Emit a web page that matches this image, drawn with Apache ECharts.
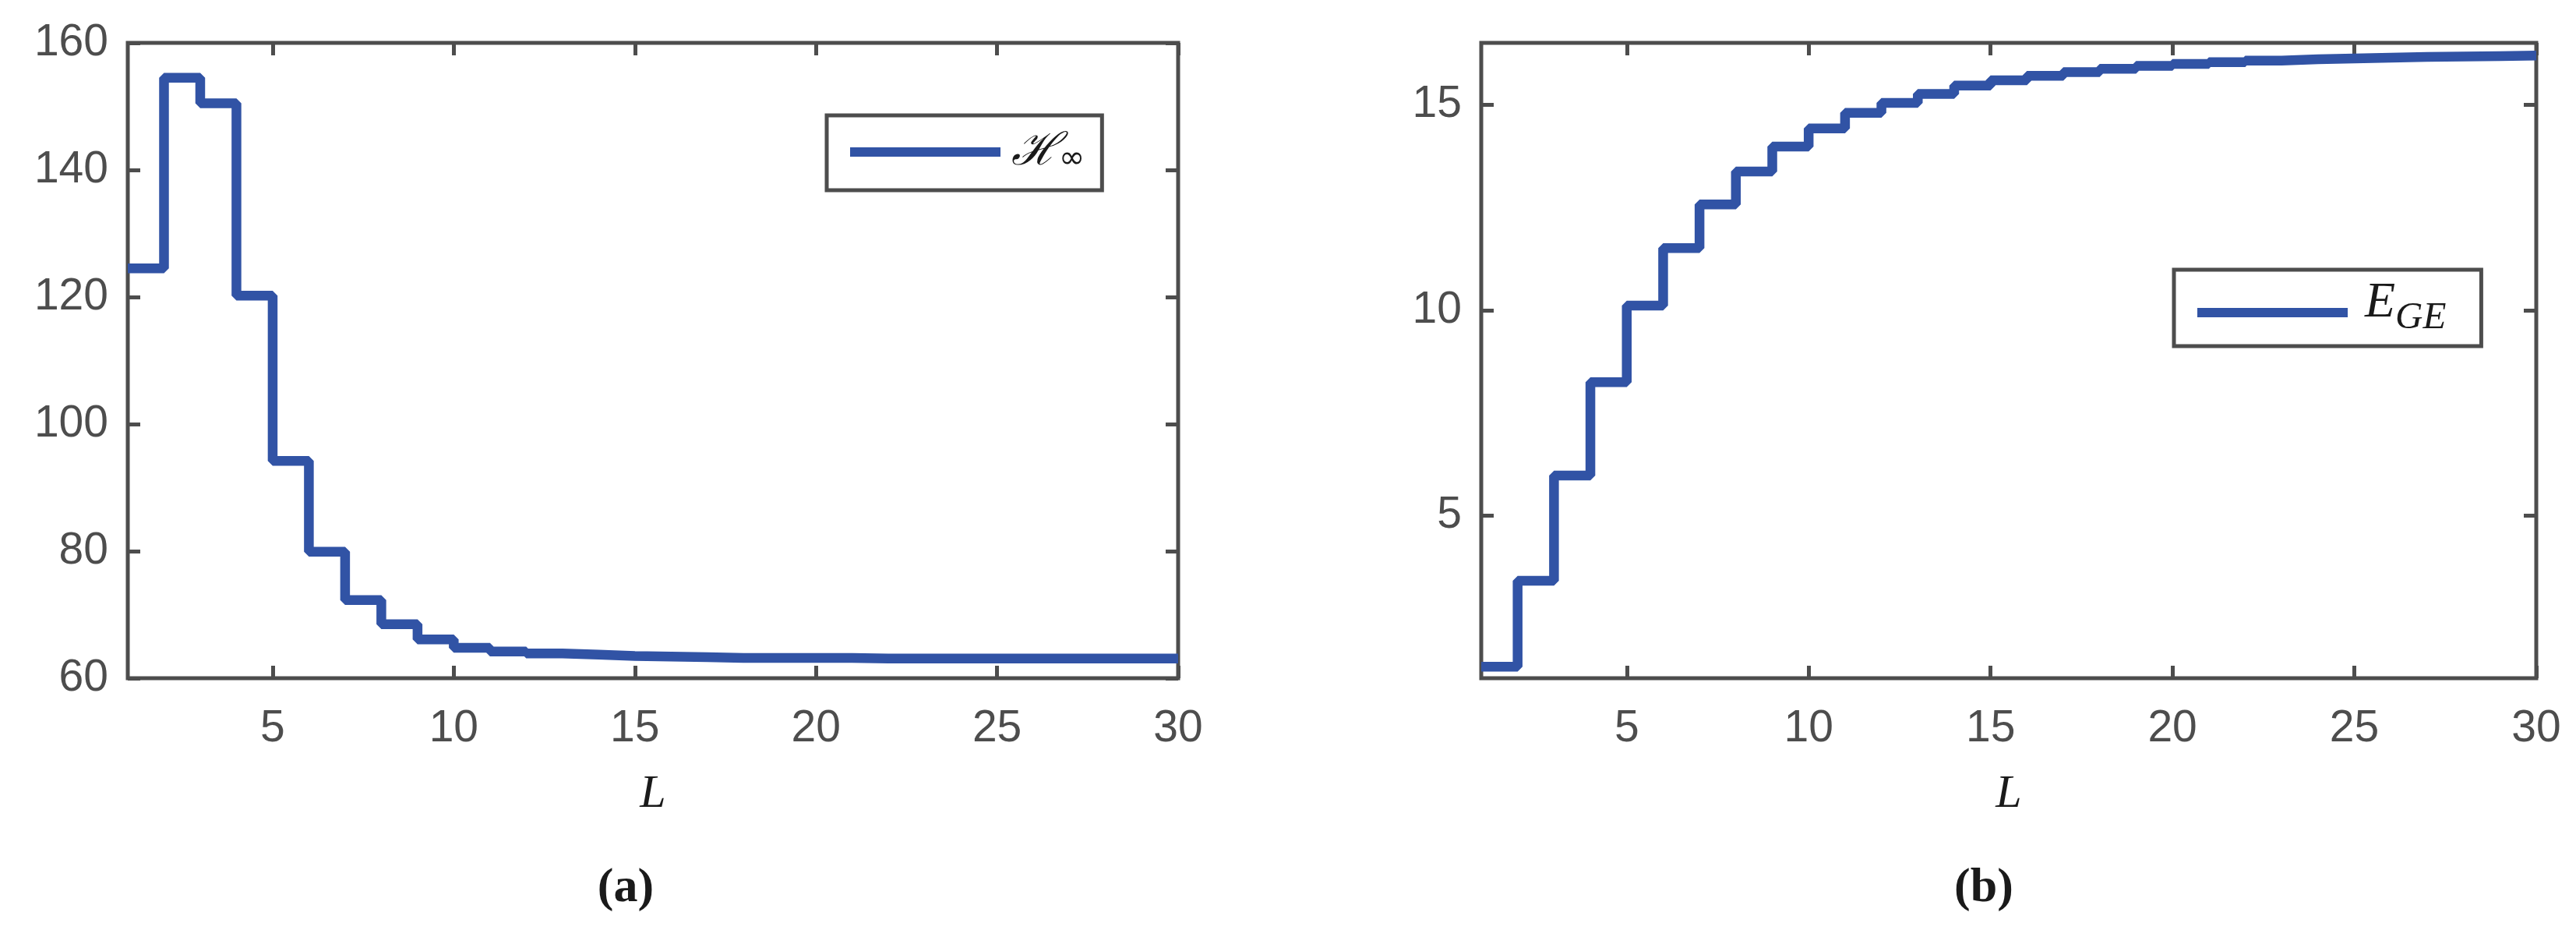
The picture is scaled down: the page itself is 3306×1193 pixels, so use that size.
<!DOCTYPE html>
<html>
<head>
<meta charset="utf-8">
<script src="https://cdn.jsdelivr.net/npm/echarts@6/dist/echarts.min.js"></script>
<style>
html,body{margin:0;padding:0;background:#fff;}
#chart{width:3306px;height:1193px;}
</style>
</head>
<body>
<div id="chart"></div>
<script>
// ---- data ----
const L = [1,2,3,4,5,6,7,8,9,10,11,12,13,14,15,16,17,18,19,20,21,22,23,24,25,26,27,28,29,30];
const hInf = [124.5,154.5,150.5,120.2,94.2,79.9,72.3,68.5,66.1,64.8,64.2,63.9,63.7,63.5,63.4,63.3,63.2,63.2,63.2,63.2,63.1,63.1,63.1,63.1,63.1,63.1,63.1,63.1,63.1,63.1];
const eGE = [1.33,3.42,5.98,8.25,10.11,11.51,12.57,13.37,13.98,14.42,14.80,15.04,15.26,15.46,15.59,15.70,15.79,15.87,15.94,15.99,16.03,16.07,16.10,16.12,16.14,16.16,16.17,16.18,16.19,16.20];
const xTicks = [5,10,15,20,25,30];
const yTicksA = [60,80,100,120,140,160];
const yTicksB = [5,10,15];
const legendA = 'H∞';
const legendB = 'E_GE';
const xName = 'L';
const captions = ['(a)','(b)'];

const AX = '#4d4d4d';
const BLUE = '#3153a5';
const LBL = {fontFamily:'Liberation Sans', fontSize:57, color:AX};

function pairs(xs, ys){ return xs.map((x,i)=>[x, ys[i]]); }

function xAxes(grid){
  return [
    {type:'value', gridIndex:grid, position:'bottom', min:1, max:30,
     axisLine:{show:false}, splitLine:{show:false},
     axisTick:{inside:true, length:16, customValues:xTicks, lineStyle:{color:AX,width:5}},
     axisLabel:Object.assign({customValues:xTicks, margin:37}, LBL),
     name:xName, nameLocation:'middle', nameGap:119,
     nameTextStyle:{fontFamily:'Liberation Serif', fontStyle:'italic', fontSize:60, color:'#1a1a1a'}},
    {type:'value', gridIndex:grid, position:'top', min:1, max:30,
     axisLine:{show:false}, splitLine:{show:false}, axisLabel:{show:false},
     axisTick:{inside:true, length:16, customValues:xTicks, lineStyle:{color:AX,width:5}}}
  ];
}

const option = {
  backgroundColor:'#fff',
  animation:false,
  grid:[
    {left:164, top:55, width:1348, height:815, show:true, borderColor:AX, borderWidth:5, backgroundColor:'transparent'},
    {left:1901, top:55, width:1354, height:815, show:true, borderColor:AX, borderWidth:5, backgroundColor:'transparent'}
  ],
  xAxis: xAxes(0).concat(xAxes(1)),
  yAxis:[
    {type:'value', gridIndex:0, position:'left', min:60, max:160, interval:20,
     axisLine:{show:false}, splitLine:{show:false},
     axisTick:{inside:true, length:16, lineStyle:{color:AX,width:5}},
     axisLabel:Object.assign({customValues:yTicksA, margin:25, padding:[8,0,0,0]}, LBL)},
    {type:'value', gridIndex:0, position:'right', min:60, max:160, interval:20,
     axisLine:{show:false}, splitLine:{show:false}, axisLabel:{show:false},
     axisTick:{inside:true, length:16, lineStyle:{color:AX,width:5}}},
    {type:'value', gridIndex:1, position:'left', min:1.05, max:16.5,
     axisLine:{show:false}, splitLine:{show:false},
     axisTick:{inside:true, length:16, customValues:yTicksB, lineStyle:{color:AX,width:5}},
     axisLabel:Object.assign({customValues:yTicksB, margin:25, padding:[8,0,0,0]}, LBL)},
    {type:'value', gridIndex:1, position:'right', min:1.05, max:16.5,
     axisLine:{show:false}, splitLine:{show:false}, axisLabel:{show:false},
     axisTick:{inside:true, length:16, customValues:yTicksB, lineStyle:{color:AX,width:5}}}
  ],
  legend:[
    {data:[{name:legendA, icon:'rect'}], left:1061, top:148, orient:'vertical',
     padding:[19,22,19,30], itemWidth:193, itemHeight:12,
     borderColor:AX, borderWidth:5, backgroundColor:'#fff',
     formatter:()=>'{h|ℋ}{s|∞}',
     textStyle:{rich:{
       h:{fontFamily:'DejaVu Serif', fontStyle:'italic', fontSize:58, lineHeight:60, color:'#1a1a1a', padding:[0,0,0,9], verticalAlign:'bottom'},
       s:{fontFamily:'DejaVu Sans', fontSize:40, lineHeight:44, color:'#1a1a1a', verticalAlign:'bottom'}
     }}},
    {data:[{name:legendB, icon:'rect'}], left:2790, top:346, orient:'vertical',
     padding:[11,45,11,30], itemWidth:193, itemHeight:12,
     borderColor:AX, borderWidth:5, backgroundColor:'#fff',
     formatter:()=>'{e|E}{s|GE}',
     textStyle:{rich:{
       e:{fontFamily:'Liberation Serif', fontStyle:'italic', fontSize:64, lineHeight:64, color:'#1a1a1a', padding:[0,0,12,17], verticalAlign:'bottom'},
       s:{fontFamily:'Liberation Serif', fontStyle:'italic', fontSize:49, lineHeight:50, color:'#1a1a1a', verticalAlign:'bottom'}
     }}}
  ],
  series:[
    {name:legendA, type:'line', step:'end', xAxisIndex:0, yAxisIndex:0, data:pairs(L,hInf),
     symbol:'none', clip:false, color:BLUE, lineStyle:{color:BLUE, width:12.5}},
    {name:legendB, type:'line', step:'end', xAxisIndex:2, yAxisIndex:2, data:pairs(L,eGE),
     symbol:'none', clip:false, color:BLUE, lineStyle:{color:BLUE, width:12.5}}
  ],
  graphic:[
    {type:'text', x:803, y:1140, style:{text:captions[0], align:'center', verticalAlign:'middle', font:'bold 62px "Liberation Serif"', fill:'#1a1a1a'}},
    {type:'text', x:2546, y:1140, style:{text:captions[1], align:'center', verticalAlign:'middle', font:'bold 62px "Liberation Serif"', fill:'#1a1a1a'}}
  ]
};
const chart = echarts.init(document.getElementById('chart'), null, {renderer:'canvas'});
chart.setOption(option);
</script>
</body>
</html>
